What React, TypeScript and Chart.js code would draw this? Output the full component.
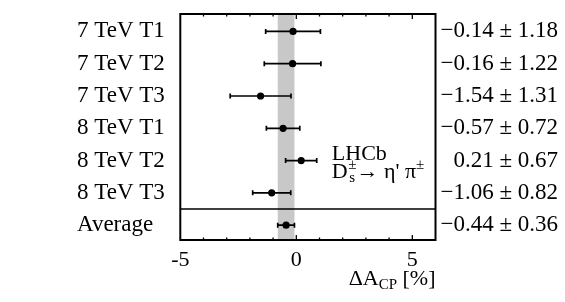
import React, { useEffect, useRef } from "react";
import { Chart, registerables } from "chart.js";

Chart.register(...registerables);

const rowLabels = ["7 TeV T1", "7 TeV T2", "7 TeV T3", "8 TeV T1", "8 TeV T2", "8 TeV T3", "Average"];
const centralValues = [-0.14, -0.16, -1.54, -0.57, 0.21, -1.06, -0.44];
const uncertainties = [1.18, 1.22, 1.31, 0.72, 0.67, 0.82, 0.36];
const xTickValues = [-5, -4, -3, -2, -1, 0, 1, 2, 3, 4, 5, 6];
const xLabelledTicks = [-5, 0, 5];

const FONT = "'Liberation Serif', 'Times New Roman', serif";

const fmt = (v: number) => (v < 0 ? "\u2212" : "") + Math.abs(v).toFixed(2);
const valueStrings = centralValues.map((v, i) => fmt(v) + " \u00b1 " + uncertainties[i].toFixed(2));

const forestPlugin = {
  id: "forest",
  beforeDatasetsDraw(chart: any) {
    const { ctx, chartArea: a } = chart;
    const x = chart.scales.x;
    const y = chart.scales.y;
    const avg = rowLabels.length - 1;
    const lo = x.getPixelForValue(centralValues[avg] - uncertainties[avg]);
    const hi = x.getPixelForValue(centralValues[avg] + uncertainties[avg]);
    ctx.save();
    ctx.fillStyle = "#c8c8c8";
    ctx.fillRect(lo, a.top, hi - lo, a.bottom - a.top);
    const ys = y.getPixelForValue(avg - 0.5);
    ctx.strokeStyle = "#000";
    ctx.lineWidth = 1.5;
    ctx.beginPath();
    ctx.moveTo(a.left, ys);
    ctx.lineTo(a.right, ys);
    ctx.stroke();
    ctx.lineWidth = 1.7;
    centralValues.forEach((v, i) => {
      const py = y.getPixelForValue(i);
      const l = x.getPixelForValue(v - uncertainties[i]);
      const r = x.getPixelForValue(v + uncertainties[i]);
      ctx.beginPath();
      ctx.moveTo(l, py);
      ctx.lineTo(r, py);
      ctx.moveTo(l, py - 2.5);
      ctx.lineTo(l, py + 2.5);
      ctx.moveTo(r, py - 2.5);
      ctx.lineTo(r, py + 2.5);
      ctx.stroke();
    });
    ctx.restore();
  },
  afterDraw(chart: any) {
    const { ctx, chartArea: a } = chart;
    const x = chart.scales.x;
    ctx.save();
    ctx.strokeStyle = "#000";
    // ticks
    ctx.lineWidth = 1.3;
    x.ticks.forEach((t: any) => {
      const px = x.getPixelForValue(t.value);
      if (px <= a.left + 1 || px >= a.right - 1) return;
      const major = xLabelledTicks.includes(t.value);
      const len = major ? 5 : 2.5;
      ctx.beginPath();
      ctx.moveTo(px, a.bottom);
      ctx.lineTo(px, a.bottom - len);
      ctx.moveTo(px, a.top);
      ctx.lineTo(px, a.top + len);
      ctx.stroke();
    });
    // frame
    ctx.lineWidth = 2;
    ctx.strokeRect(a.left, a.top, a.right - a.left, a.bottom - a.top);

    ctx.fillStyle = "#000";
    ctx.textBaseline = "alphabetic";
    // axis title: ΔA_CP [%]
    const big = "22px " + FONT;
    const small = "15px " + FONT;
    ctx.font = big;
    const w1 = ctx.measureText("\u0394A").width;
    const w3 = ctx.measureText(" [%]").width;
    ctx.font = small;
    const w2 = ctx.measureText("CP").width;
    const base = 285;
    let tx = a.right - (w1 + w2 + w3);
    ctx.font = big;
    ctx.fillText("\u0394A", tx, base);
    tx += w1;
    ctx.font = small;
    ctx.fillText("CP", tx, base + 4);
    tx += w2;
    ctx.font = big;
    ctx.fillText(" [%]", tx, base);

    // LHCb label
    const lx = a.left + 151.5;
    ctx.font = big;
    ctx.fillText("LHCb", lx, 160);
    const b2 = 178;
    let cx = lx;
    ctx.fillText("D", cx, b2);
    cx += ctx.measureText("D").width + 0.5;
    ctx.font = small;
    ctx.fillText("s", cx + 1, b2 + 4);
    ctx.fillText("\u00b1", cx, b2 - 9);
    cx += ctx.measureText("\u00b1").width;
    ctx.font = big;
    const rest = "\u2192 \u03b7' \u03c0";
    ctx.fillText(rest, cx, b2);
    cx += ctx.measureText(rest).width;
    ctx.font = small;
    ctx.fillText("\u00b1", cx, b2 - 9);
    ctx.restore();
  },
};

export default function App() {
  const ref = useRef<HTMLCanvasElement | null>(null);
  useEffect(() => {
    if (!ref.current) return;
    Chart.defaults.font.family = FONT;
    const rowTicks = (scale: any) => {
      scale.ticks = rowLabels.map((_, i) => ({ value: i }));
    };
    const chart = new Chart(ref.current, {
      type: "scatter",
      data: {
        datasets: [
          {
            data: centralValues.map((v, i) => ({ x: v, y: i })),
            pointRadius: 3.6,
            pointBackgroundColor: "#000",
            pointBorderWidth: 0,
            showLine: false,
            xAxisID: "x",
            yAxisID: "y",
          },
        ],
      },
      options: {
        responsive: false,
        animation: false,
        layout: { padding: { left: 77, right: 7, top: 14, bottom: 0 } },
        plugins: { legend: { display: false }, tooltip: { enabled: false } },
        scales: {
          x: {
            type: "linear",
            position: "bottom",
            min: -5,
            max: 6,
            afterBuildTicks: (scale: any) => {
              scale.ticks = xTickValues.map((v) => ({ value: v }));
            },
            afterFit: (scale: any) => {
              scale.height = 62;
            },
            grid: { display: false, drawTicks: false },
            border: { display: false },
            ticks: {
              autoSkip: false,
              maxRotation: 0,
              padding: 7,
              color: "#000",
              font: { size: 22 },
              callback: (val: any) => (xLabelledTicks.includes(Number(val)) ? String(val) : ""),
            },
          },
          y: {
            type: "linear",
            position: "left",
            min: -0.54,
            max: 6.46,
            reverse: true,
            afterBuildTicks: rowTicks,
            afterFit: (scale: any) => {
              scale.width = 103.3;
            },
            grid: { display: false, drawTicks: false },
            border: { display: false },
            ticks: {
              crossAlign: "far",
              padding: 0,
              color: "#000",
              font: { size: 23 },
              callback: (val: any) => rowLabels[Number(val)] ?? "",
            },
          },
          yR: {
            type: "linear",
            position: "right",
            min: -0.54,
            max: 6.46,
            reverse: true,
            afterBuildTicks: rowTicks,
            afterFit: (scale: any) => {
              scale.width = 122.5;
            },
            grid: { display: false, drawTicks: false },
            border: { display: false },
            ticks: {
              crossAlign: "far",
              padding: 0,
              color: "#000",
              font: { size: 23 },
              callback: (val: any) => valueStrings[Number(val)] ?? "",
            },
          },
        },
      },
      plugins: [forestPlugin],
    });
    return () => chart.destroy();
  }, []);
  return (
    <div style={{ position: "absolute", left: 0, top: 0, width: 565, height: 302, background: "#fff" }}>
      <canvas ref={ref} width={565} height={302} />
    </div>
  );
}
